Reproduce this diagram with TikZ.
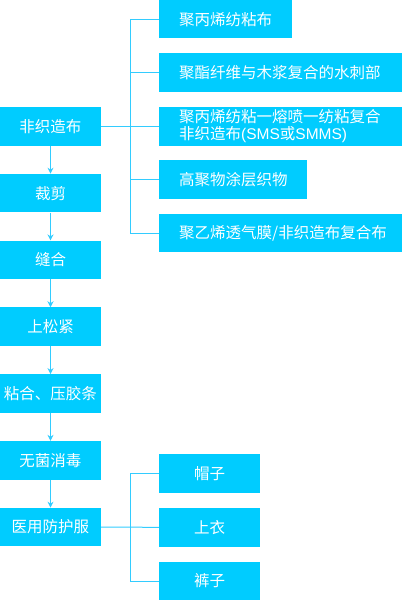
\documentclass[tikz,border=0pt]{standalone}
\usepackage{fontspec}
\setmainfont{Noto Sans CJK SC}
\newfontfamily\latin{Liberation Sans}
\usetikzlibrary{arrows.meta}
\definecolor{boxblue}{HTML}{00CCFF}
\definecolor{lineblue}{HTML}{33CCFF}

\begin{document}
\begin{tikzpicture}[x=1pt, y=-1pt,
  box/.style={fill=boxblue, text=white, inner sep=0pt, minimum height=38.5pt,
    font=\fontsize{15.5}{17}\selectfont},
  sidebox/.style={box, anchor=west, align=left, inner xsep=20pt, text width=#1},
  link/.style={draw=lineblue, line width=1pt},
  flow/.style={link, -{Stealth[length=6pt,width=6pt]}}]
\useasboundingbox (0,0) rectangle (405,600);
\def\W{101}
\def\P{66.8}
\def\X{159}

% main process
\foreach \t [count=\i from 0] in {非织造布, 裁剪, 缝合, 上松紧, 粘合、压胶条, 无菌消毒, 医用防护服}
  \node[box, minimum width=\W] (s\i) at (\W/2, 126.3+\P*\i) {\t};

\foreach \i [evaluate=\i as \j using int(\i+1)] in {0,...,5}
  \draw[flow] (s\i.south) -- (s\j.north);

% materials
\node[sidebox=93pt]  (t1) at (\X, 19.2)  {聚丙烯纺粘布};
\node[sidebox=203pt] (t2) at (\X, 72.7)  {聚酯纤维与木浆复合的水刺部};
\node[sidebox=203pt] (t3) at (\X, 126.3) {聚丙烯纺粘一熔喷一纺粘复合\\非织造布{\latin(SMS}或{\latin SMMS)}};
\node[sidebox=108pt] (t4) at (\X, 179.7) {高聚物涂层织物};
\node[sidebox=203pt] (t5) at (\X, 233.2) {聚乙烯透气膜/非织造布复合布};

% parts
\node[box, minimum width=\W] (p1) at (\X+\W/2, 473.5) {帽子};
\node[box, minimum width=\W] (p2) at (\X+\W/2, 527.3) {上衣};
\node[box, minimum width=\W] (p3) at (\X+\W/2, 581)   {裤子};

\coordinate (bus) at (130,0);

\draw[link] (s0.east) -- (t3.west);
\draw[link] (t1.west) -- (t1.west -| bus) -- (t5.west -| bus) -- (t5.west);
\draw[link] (t2.west) -- (t2.west -| bus);
\draw[link] (t4.west) -- (t4.west -| bus);

\draw[link] (s6.east) -- (p2.west);
\draw[link] (p1.west) -- (p1.west -| bus) -- (p3.west -| bus) -- (p3.west);
\end{tikzpicture}
\end{document}
